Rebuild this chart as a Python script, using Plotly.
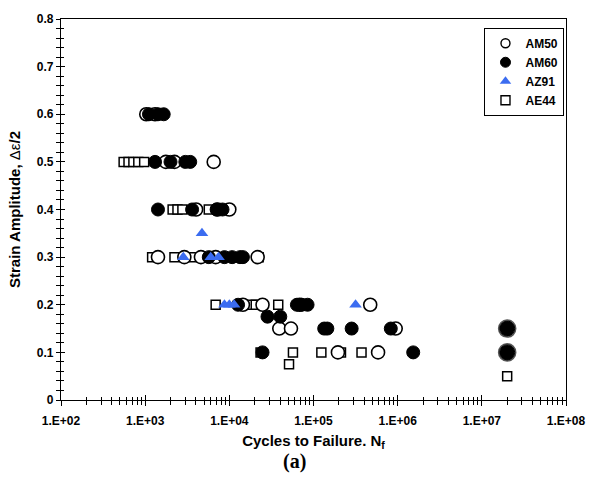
import numpy as np
import plotly.graph_objects as go

# Strain-life data (cycles to failure, strain amplitude) for four Mg alloys
am50_n = [1030, 1310, 1760, 2230, 6520, 4030, 7250, 10000,
          1420, 2920, 4600, 6880, 21700,
          14500, 24800, 68700, 472000,
          39200, 54000, 948000,
          195000, 585000]
am50_s = [0.6, 0.6, 0.5, 0.5, 0.5, 0.4, 0.4, 0.4,
          0.3, 0.3, 0.3, 0.3, 0.3,
          0.2, 0.2, 0.2, 0.2,
          0.15, 0.15, 0.15,
          0.1, 0.1]

am60_n = [1110, 1420, 1660, 1310, 2000, 3000, 3430,
          1420, 3610, 7060, 8300,
          5700, 8750, 10800, 13400, 14500,
          12700, 63500, 72500, 85000,
          28400, 40300,
          134000, 146000, 284000, 829000,
          24800, 1530000]
am60_s = [0.6, 0.6, 0.6, 0.5, 0.5, 0.5, 0.5,
          0.4, 0.4, 0.4, 0.4,
          0.3, 0.3, 0.3, 0.3, 0.3,
          0.2, 0.2, 0.2, 0.2,
          0.175, 0.175,
          0.15, 0.15, 0.15, 0.15,
          0.1, 0.1]

az91_n = [4730, 2840, 6010, 7450, 8750, 10000, 11400, 316000]
az91_s = [0.35, 0.3, 0.3, 0.3, 0.2, 0.2, 0.2, 0.2]

ae44_n = [555, 634, 725, 829, 973,
          2120, 2420, 2770, 5700,
          1210, 2230, 3610, 5120, 22300,
          6880, 18500, 20600, 38100,
          23500, 57000, 124000, 212000, 372000,
          51200, 2.0e7]
ae44_s = [0.5, 0.5, 0.5, 0.5, 0.5,
          0.4, 0.4, 0.4, 0.4,
          0.3, 0.3, 0.3, 0.3, 0.3,
          0.2, 0.2, 0.2, 0.2,
          0.1, 0.1, 0.1, 0.1, 0.1,
          0.075, 0.05]

# Run-out specimens (test stopped without failure)
runout_n = [2.0e7, 2.0e7]
runout_am50_s = [0.15, 0.1]
runout_am60_s = [0.15, 0.1]

x_tick_vals = [1e2, 1e3, 1e4, 1e5, 1e6, 1e7, 1e8]
x_tick_text = ["1.E+02", "1.E+03", "1.E+04", "1.E+05", "1.E+06", "1.E+07", "1.E+08"]
y_tick_vals = [0, 0.1, 0.2, 0.3, 0.4, 0.5, 0.6, 0.7, 0.8]
y_tick_text = ["0", "0.1", "0.2", "0.3", "0.4", "0.5", "0.6", "0.7", "0.8"]

BLUE = "#3b6cf0"
FONT = "Liberation Sans, Arial, sans-serif"

x_minor = [m * 10 ** e for e in range(2, 8) for m in range(2, 10)]
y_minor = [round(v, 3) for v in np.arange(0, 0.801, 0.02)]

fig = go.Figure()

open_marker = dict(symbol="circle", size=13, color="white",
                   line=dict(color="black", width=1.6))
fill_marker = dict(symbol="circle", size=13, color="black",
                   line=dict(color="black", width=1))
square_marker = dict(symbol="square", size=9, color="white",
                     line=dict(color="black", width=1.5))
tri_marker = dict(symbol="triangle-up", size=11, color=BLUE, line=dict(width=0))

fig.add_trace(go.Scatter(x=ae44_n, y=ae44_s, mode="markers", name="AE44",
                         showlegend=False, marker=square_marker))
fig.add_trace(go.Scatter(x=am50_n, y=am50_s, mode="markers", name="AM50",
                         showlegend=False, marker=open_marker))
fig.add_trace(go.Scatter(x=runout_n, y=runout_am50_s, mode="markers",
                         showlegend=False,
                         marker=dict(symbol="circle", size=17, color="white",
                                     line=dict(color="#555555", width=1.6))))
fig.add_trace(go.Scatter(x=am60_n, y=am60_s, mode="markers", name="AM60",
                         showlegend=False, marker=fill_marker))
fig.add_trace(go.Scatter(x=runout_n, y=runout_am60_s, mode="markers",
                         showlegend=False,
                         marker=dict(symbol="circle", size=15, color="black",
                                     line=dict(color="black", width=1))))
fig.add_trace(go.Scatter(x=az91_n, y=az91_s, mode="markers", name="AZ91",
                         showlegend=False, marker=tri_marker))

# legend entries with compact symbols
legend_items = [
    ("AM50", dict(symbol="circle", size=9, color="white", line=dict(color="black", width=1.4))),
    ("AM60", dict(symbol="circle", size=10, color="black", line=dict(color="black", width=1))),
    ("AZ91", dict(symbol="triangle-up", size=10, color=BLUE, line=dict(width=0))),
    ("AE44", dict(symbol="square", size=9, color="white", line=dict(color="black", width=1.4))),
]
for name, mk in legend_items:
    fig.add_trace(go.Scatter(x=[None], y=[None], mode="markers",
                             name=f"<b>{name}</b>", marker=mk, hoverinfo="skip"))

# empty trace so the overlaid tick axes are rendered
fig.add_trace(go.Scatter(x=[], y=[], xaxis="x2", yaxis="y2", showlegend=False,
                         hoverinfo="skip"))

tick_font = dict(family=FONT, size=12, color="black")

fig.update_layout(
    width=598, height=480,
    margin=dict(l=61, r=21, t=15, b=80),
    paper_bgcolor="white", plot_bgcolor="white",
    font=dict(family=FONT, color="black"),
    xaxis=dict(type="log", range=[2, 8], tickmode="array",
               tickvals=x_tick_vals, ticktext=[f"<b>{t}</b>" for t in x_tick_text],
               tickfont=tick_font, ticks="outside", ticklen=5, tickwidth=1,
               tickcolor="black", ticklabelstandoff=4,
               minor=dict(tickmode="array", tickvals=x_minor, ticks="outside",
                          ticklen=4, tickcolor="black"),
               showline=True, linecolor="black", linewidth=1.2, mirror=True,
               showgrid=False, zeroline=False,
               title=dict(text="<b>Cycles to Failure. N<sub>f</sub></b>",
                          font=dict(family=FONT, size=15), standoff=8)),
    yaxis=dict(range=[0, 0.8], tickmode="array", tickvals=y_tick_vals,
               ticktext=[f"<b>{t}</b>" for t in y_tick_text],
               tickfont=tick_font, ticks="outside", ticklen=4, tickwidth=1,
               tickcolor="black",
               minor=dict(tickmode="array", tickvals=y_minor, ticks="outside",
                          ticklen=4, tickcolor="black"),
               showline=True, linecolor="black", linewidth=1.2, mirror=True,
               showgrid=False, zeroline=False,
               title=dict(text="<b>Strain Amplitude, </b>Δε<b>/2</b>",
                          font=dict(family=FONT, size=15), standoff=12)),
    xaxis2=dict(type="log", range=[2, 8], overlaying="x", anchor="y2",
                side="bottom", tickmode="array", tickvals=x_tick_vals,
                showticklabels=False, ticks="inside", ticklen=5,
                tickcolor="black",
                minor=dict(tickmode="array", tickvals=x_minor, ticks="inside",
                           ticklen=3, tickcolor="black"),
                showgrid=False, zeroline=False, showline=False),
    yaxis2=dict(range=[0, 0.8], overlaying="y", anchor="x2", side="left",
                tickmode="array", tickvals=y_tick_vals, showticklabels=False,
                ticks="inside", ticklen=4, tickcolor="black",
                minor=dict(tickmode="array", tickvals=y_minor, ticks="inside",
                           ticklen=3, tickcolor="black"),
                showgrid=False, zeroline=False, showline=False),
    legend=dict(x=0.997, y=0.977, xanchor="right", yanchor="top",
                bgcolor="white", bordercolor="black", borderwidth=1,
                font=dict(family=FONT, size=12, color="black"),
                itemwidth=30, tracegroupgap=0, traceorder="normal"),
    showlegend=True,
)

fig.add_annotation(text="<b>(a)</b>", xref="paper", yref="paper",
                   x=(300 - 61) / 516, y=-(462 - 400) / 385,
                   xanchor="center", yanchor="middle", showarrow=False,
                   font=dict(family="Liberation Serif, Times New Roman, serif",
                             size=20, color="black"))

fig.write_html("out.html")
